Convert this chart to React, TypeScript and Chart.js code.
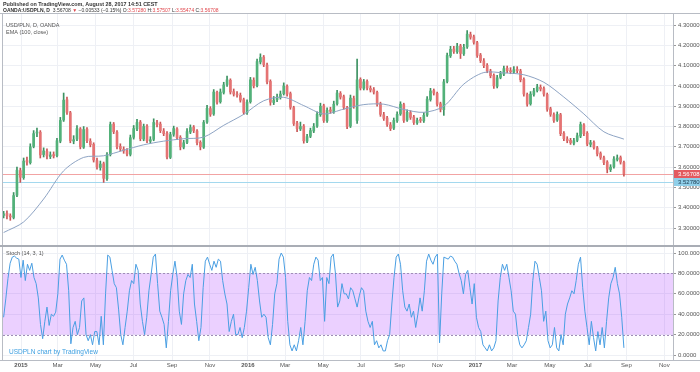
import React, { useEffect, useRef } from 'react';
import { Chart, registerables } from 'chart.js';

Chart.register(...registerables);

// ---- time frame (candles are evenly spread between these dates) ----
const START_DATE = '2014-12-04';
const END_DATE = '2017-08-28';
const X_MIN_DATE = '2014-12-03';
const X_MAX_DATE = '2017-11-15';

// ---- USD/PLN candles ----
const OPEN = [
  3.362, 3.372, 3.358, 3.352, 3.462, 3.583, 3.548, 3.632, 3.622, 3.702,
  3.768, 3.772, 3.662, 3.678, 3.652, 3.662, 3.657, 3.728, 3.832, 3.932,
  3.868, 3.728, 3.738, 3.788, 3.698, 3.787, 3.728, 3.712, 3.632, 3.598,
  3.617, 3.543, 3.662, 3.812, 3.772, 3.702, 3.688, 3.682, 3.663, 3.747,
  3.788, 3.822, 3.738, 3.802, 3.728, 3.737, 3.818, 3.812, 3.778, 3.767,
  3.648, 3.762, 3.788, 3.747, 3.698, 3.722, 3.773, 3.797, 3.778, 3.722,
  3.698, 3.822, 3.888, 3.862, 3.968, 3.922, 3.968, 4.007, 4.028, 3.972,
  3.958, 3.953, 3.932, 3.868, 3.922, 4.028, 4.002, 4.118, 4.142, 4.103,
  4.022, 3.918, 3.932, 3.943, 3.962, 3.998, 3.962, 3.893, 3.817, 3.788,
  3.802, 3.728, 3.752, 3.778, 3.802, 3.858, 3.902, 3.828, 3.882, 3.873,
  3.912, 3.963, 3.947, 3.893, 3.802, 3.938, 3.830, 4.032, 3.988, 4.022,
  3.988, 3.982, 3.968, 3.912, 3.858, 3.842, 3.808, 3.792, 3.828, 3.862,
  3.908, 3.832, 3.868, 3.847, 3.818, 3.832, 3.828, 3.857, 3.933, 3.977,
  3.963, 3.912, 3.883, 4.022, 4.148, 4.182, 4.168, 4.197, 4.158, 4.192,
  4.253, 4.242, 4.213, 4.152, 4.123, 4.102, 4.073, 4.052, 3.998, 4.042,
  4.058, 4.087, 4.073, 4.068, 4.082, 4.073, 4.032, 3.958, 3.912, 3.958,
  3.977, 3.993, 3.987, 3.958, 3.887, 3.858, 3.832, 3.858, 3.767, 3.738,
  3.732, 3.718, 3.732, 3.753, 3.808, 3.767, 3.712, 3.722, 3.695, 3.667,
  3.646, 3.625, 3.588, 3.602, 3.638, 3.647, 3.623,
];
const HIGH = [
  3.382, 3.385, 3.370, 3.475, 3.600, 3.595, 3.645, 3.650, 3.715, 3.780,
  3.792, 3.780, 3.695, 3.690, 3.675, 3.675, 3.742, 3.845, 3.965, 3.945,
  3.875, 3.755, 3.805, 3.795, 3.800, 3.795, 3.740, 3.720, 3.645, 3.630,
  3.625, 3.672, 3.822, 3.820, 3.780, 3.715, 3.700, 3.692, 3.758, 3.805,
  3.835, 3.830, 3.812, 3.810, 3.750, 3.838, 3.830, 3.822, 3.790, 3.775,
  3.772, 3.802, 3.795, 3.755, 3.732, 3.790, 3.808, 3.805, 3.785, 3.730,
  3.830, 3.905, 3.898, 3.982, 3.975, 3.985, 4.018, 4.048, 4.035, 3.985,
  3.972, 3.965, 3.940, 3.932, 4.042, 4.040, 4.132, 4.158, 4.150, 4.112,
  4.030, 3.948, 3.960, 3.975, 4.015, 4.005, 3.970, 3.900, 3.825, 3.822,
  3.810, 3.762, 3.792, 3.815, 3.872, 3.915, 3.910, 3.892, 3.895, 3.925,
  3.978, 3.972, 3.955, 3.900, 3.955, 3.950, 4.132, 4.040, 4.032, 4.030,
  4.000, 3.992, 3.975, 3.920, 3.870, 3.850, 3.820, 3.842, 3.872, 3.922,
  3.915, 3.882, 3.878, 3.855, 3.842, 3.845, 3.868, 3.948, 3.988, 3.985,
  3.970, 3.920, 4.032, 4.162, 4.195, 4.195, 4.210, 4.205, 4.205, 4.272,
  4.265, 4.250, 4.220, 4.160, 4.135, 4.110, 4.082, 4.060, 4.052, 4.072,
  4.098, 4.098, 4.090, 4.095, 4.095, 4.082, 4.040, 3.965, 3.972, 3.988,
  4.008, 4.005, 3.995, 3.965, 3.895, 3.868, 3.872, 3.865, 3.775, 3.750,
  3.742, 3.742, 3.768, 3.822, 3.815, 3.775, 3.732, 3.730, 3.702, 3.675,
  3.655, 3.632, 3.612, 3.652, 3.660, 3.655, 3.630,
];
const LOW = [
  3.350, 3.345, 3.338, 3.345, 3.455, 3.525, 3.540, 3.610, 3.615, 3.695,
  3.750, 3.645, 3.650, 3.640, 3.642, 3.645, 3.650, 3.720, 3.825, 3.860,
  3.720, 3.715, 3.730, 3.690, 3.692, 3.720, 3.700, 3.625, 3.590, 3.585,
  3.525, 3.535, 3.655, 3.765, 3.690, 3.680, 3.668, 3.655, 3.655, 3.738,
  3.780, 3.730, 3.730, 3.720, 3.718, 3.730, 3.798, 3.770, 3.755, 3.640,
  3.642, 3.752, 3.735, 3.685, 3.690, 3.715, 3.765, 3.770, 3.710, 3.685,
  3.692, 3.815, 3.850, 3.855, 3.910, 3.915, 3.960, 3.998, 3.960, 3.950,
  3.945, 3.920, 3.860, 3.860, 3.915, 3.990, 3.995, 4.108, 4.095, 4.010,
  3.905, 3.908, 3.922, 3.935, 3.955, 3.950, 3.885, 3.805, 3.775, 3.780,
  3.718, 3.720, 3.745, 3.770, 3.795, 3.850, 3.820, 3.820, 3.865, 3.865,
  3.905, 3.935, 3.885, 3.790, 3.795, 3.890, 3.815, 3.980, 3.980, 3.980,
  3.970, 3.960, 3.900, 3.850, 3.830, 3.800, 3.780, 3.785, 3.820, 3.855,
  3.820, 3.825, 3.835, 3.810, 3.810, 3.820, 3.820, 3.850, 3.925, 3.955,
  3.900, 3.872, 3.855, 4.015, 4.140, 4.160, 4.160, 4.135, 4.150, 4.185,
  4.230, 4.205, 4.140, 4.115, 4.090, 4.065, 4.040, 3.988, 3.990, 4.035,
  4.050, 4.065, 4.060, 4.060, 4.065, 4.020, 3.950, 3.900, 3.905, 3.950,
  3.970, 3.975, 3.950, 3.875, 3.850, 3.820, 3.825, 3.755, 3.730, 3.720,
  3.712, 3.710, 3.725, 3.745, 3.755, 3.705, 3.700, 3.688, 3.655, 3.638,
  3.612, 3.572, 3.578, 3.595, 3.630, 3.615, 3.555,
];
const CLOSE = [
  3.370, 3.360, 3.355, 3.460, 3.585, 3.550, 3.630, 3.625, 3.700, 3.765,
  3.770, 3.660, 3.680, 3.655, 3.660, 3.655, 3.730, 3.830, 3.930, 3.870,
  3.730, 3.735, 3.790, 3.700, 3.785, 3.730, 3.710, 3.635, 3.600, 3.615,
  3.545, 3.660, 3.810, 3.775, 3.700, 3.690, 3.680, 3.665, 3.745, 3.790,
  3.820, 3.740, 3.800, 3.730, 3.735, 3.820, 3.810, 3.780, 3.765, 3.650,
  3.760, 3.790, 3.745, 3.700, 3.720, 3.775, 3.795, 3.780, 3.720, 3.700,
  3.820, 3.890, 3.860, 3.970, 3.920, 3.970, 4.005, 4.030, 3.970, 3.960,
  3.955, 3.930, 3.870, 3.920, 4.030, 4.000, 4.120, 4.140, 4.105, 4.020,
  3.920, 3.930, 3.945, 3.960, 4.000, 3.960, 3.895, 3.815, 3.790, 3.800,
  3.730, 3.750, 3.780, 3.800, 3.860, 3.900, 3.830, 3.880, 3.875, 3.910,
  3.965, 3.945, 3.895, 3.800, 3.940, 3.900, 4.030, 3.990, 4.020, 3.990,
  3.980, 3.970, 3.910, 3.860, 3.840, 3.810, 3.790, 3.830, 3.860, 3.910,
  3.830, 3.870, 3.845, 3.820, 3.830, 3.830, 3.855, 3.935, 3.975, 3.965,
  3.910, 3.885, 4.020, 4.150, 4.180, 4.170, 4.195, 4.160, 4.190, 4.255,
  4.240, 4.215, 4.150, 4.125, 4.100, 4.075, 4.050, 4.000, 4.040, 4.060,
  4.085, 4.075, 4.070, 4.080, 4.075, 4.030, 3.960, 3.910, 3.960, 3.975,
  3.995, 3.985, 3.960, 3.885, 3.860, 3.830, 3.860, 3.765, 3.740, 3.730,
  3.720, 3.730, 3.755, 3.810, 3.765, 3.714, 3.720, 3.697, 3.665, 3.648,
  3.623, 3.590, 3.600, 3.640, 3.645, 3.625, 3.567,
];

// EMA(100, close), read at every 6th candle
const EMA_EVERY = 6;
const EMA100 = [
  3.278, 3.330, 3.443, 3.582, 3.648, 3.656, 3.683, 3.710, 3.728, 3.740,
  3.748, 3.806, 3.860, 3.927, 3.944, 3.903, 3.862, 3.886, 3.908, 3.910,
  3.884, 3.870, 3.900, 4.009, 4.066, 4.064, 4.055, 4.018, 3.945, 3.862,
  3.774, 3.738,
];

// Stoch(14,3,1) %K, evenly spread between START_DATE and END_DATE
const STOCH_K = [
  37, 55, 75, 90, 96, 97, 95, 94, 76, 93, 73, 89, 83, 90, 76, 70, 56, 30, 16, 33,
  47, 29, 40, 38, 42, 60, 94, 98, 93, 89, 63, 11, 27, 33, 20, 27, 53, 56, 20, 14,
  20, 10, 23, 23, 10, 38, 10, 60, 98, 96, 83, 70, 66, 45, 20, 10, 27, 43, 63, 73,
  70, 89, 83, 50, 33, 20, 37, 63, 79, 96, 99, 70, 43, 37, 30, 7, 33, 63, 79, 92,
  76, 43, 30, 60, 73, 79, 76, 89, 50, 33, 14, 27, 66, 92, 96, 89, 83, 92, 86, 94,
  92, 73, 60, 50, 23, 33, 40, 20, 20, 27, 17, 27, 43, 66, 89, 79, 86, 73, 53, 37,
  40, 37, 17, 10, 30, 60, 70, 94, 100, 96, 76, 33, 10, 4, 10, 4, 14, 27, 10, 33,
  63, 76, 73, 89, 96, 93, 73, 76, 33, 76, 70, 96, 99, 80, 47, 53, 70, 60, 60, 55,
  66, 63, 55, 47, 58, 66, 63, 43, 33, 27, 33, 10, 14, 7, 10, 4, 4, 14, 20, 50,
  76, 96, 99, 89, 63, 47, 43, 50, 37, 43, 27, 40, 56, 43, 63, 92, 99, 93, 89, 96,
  99, 12, 60, 96, 95, 94, 97, 96, 92, 89, 80, 73, 60, 79, 83, 66, 50, 70, 37, 27,
  23, 10, 7, 4, 10, 4, 7, 14, 53, 76, 89, 83, 89, 76, 63, 43, 40, 20, 10, 7,
  10, 14, 27, 40, 73, 92, 89, 76, 63, 33, 43, 14, 7, 10, 27, 7, 4, 20, 10, 40,
  50, 56, 63, 60, 73, 89, 96, 66, 43, 27, 10, 33, 17, 4, 23, 10, 27, 7, 33, 56,
  70, 76, 86, 70, 60, 37, 7,
];

// ---- axes ----
const PRICE_MIN = 3.2116;
const PRICE_MAX = 4.3542;
const PRICE_TICKS = [3.3, 3.4, 3.5, 3.6, 3.7, 3.8, 3.9, 4.0, 4.1, 4.2, 4.3];
const STOCH_MIN = -4.9;
const STOCH_MAX = 106.9;
const STOCH_TICKS = [0, 20, 40, 60, 80, 100];
const STOCH_BAND = [20, 80];
const TIME_TICK_DATES = [
  '2015-01-01', '2015-03-01', '2015-05-01', '2015-07-01', '2015-09-01', '2015-11-01',
  '2016-01-01', '2016-03-01', '2016-05-01', '2016-07-01', '2016-09-01', '2016-11-01',
  '2017-01-01', '2017-03-01', '2017-05-01', '2017-07-01', '2017-09-01', '2017-11-01',
];
const TIME_TICK_LABELS = [
  '2015', 'Mar', 'May', 'Jul', 'Sep', 'Nov',
  '2016', 'Mar', 'May', 'Jul', 'Sep', 'Nov',
  '2017', 'Mar', 'May', 'Jul', 'Sep', 'Nov',
];

const LAST_PRICE = 3.56708;
const LEVEL_PRICE = 3.5278;

const HEADER_1 = 'Published on TradingView.com, August 28, 2017 14:51 CEST';
const SYMBOL_LINE = 'OANDA:USDPLN, D';
const QUOTE_PARTS = [
  ['3.56708 ', 'dark'], ['\u25BC ', 'red'], ['\u22120.00533 (\u22120.15%) ', 'dark'],
  ['O:', 'dark'], ['3.57280 ', 'red'], ['H:', 'dark'], ['3.57507 ', 'red'],
  ['L:', 'dark'], ['3.55474 ', 'red'], ['C:', 'dark'], ['3.56708', 'red'],
];
const PANE_TITLES = ['USD/PLN, D, OANDA', 'EMA (100, close)'];
const STOCH_TITLE = 'Stoch (14, 3, 1)';
const WATERMARK = 'USDPLN chart by TradingView';

const FONT = '"Liberation Sans", Arial, sans-serif';
const UP_BODY = '#52b179';
const UP_WICK = '#3d9262';
const DOWN_BODY = '#e57373';
const DOWN_WICK = '#c95555';

const DAY_MS = 86400000;
const BASE = Date.parse('2015-01-01T00:00:00Z');
const dayNum = (s: string) => (Date.parse(s + 'T00:00:00Z') - BASE) / DAY_MS;

export default function App() {
  const ref = useRef<HTMLCanvasElement | null>(null);

  useEffect(() => {
    const canvas = ref.current;
    if (!canvas) return;

    const d0 = dayNum(START_DATE);
    const d1 = dayNum(END_DATE);
    const n = CLOSE.length;
    const candleDay = (i: number) => d0 + (i * (d1 - d0)) / (n - 1);

    const wicks = CLOSE.map((c, i) => ({ x: candleDay(i), y: [LOW[i], HIGH[i]] }));
    const bodies = CLOSE.map((c, i) => ({ x: candleDay(i), y: [OPEN[i], c] }));
    const up = CLOSE.map((c, i) => c >= OPEN[i]);
    const ema = EMA100.map((v, j) => ({ x: candleDay(Math.min(j * EMA_EVERY, n - 1)), y: v }));
    const ns = STOCH_K.length;
    const stoch = STOCH_K.map((v, i) => ({ x: d0 + (i * (d1 - d0)) / (ns - 1), y: v }));
    const tickDays = TIME_TICK_DATES.map(dayNum);

    const overlay = {
      id: 'tvOverlay',
      beforeDraw(chart: any) {
        const ctx = chart.ctx;
        ctx.save();
        ctx.fillStyle = '#ffffff';
        ctx.fillRect(0, 0, chart.width, chart.height);
        ctx.restore();
      },
      beforeDatasetsDraw(chart: any) {
        const ctx = chart.ctx;
        const a = chart.chartArea;
        const s2 = chart.scales.y2;
        const yTop = s2.getPixelForValue(STOCH_BAND[1]);
        const yBot = s2.getPixelForValue(STOCH_BAND[0]);
        ctx.save();
        ctx.fillStyle = 'rgba(153, 21, 255, 0.2)';
        ctx.fillRect(a.left, yTop, a.right - a.left, yBot - yTop);
        ctx.strokeStyle = '#a08cb8';
        ctx.lineWidth = 1;
        ctx.setLineDash([2, 2]);
        [yTop, yBot].forEach((y) => {
          ctx.beginPath();
          ctx.moveTo(a.left, Math.round(y) + 0.5);
          ctx.lineTo(a.right, Math.round(y) + 0.5);
          ctx.stroke();
        });
        ctx.setLineDash([]);
        // price lines
        const sy = chart.scales.y;
        const lines = [
          [LAST_PRICE, '#f2a3a3'],
          [LEVEL_PRICE, '#a3d8ee'],
        ];
        lines.forEach(([p, col]: any) => {
          const y = Math.round(sy.getPixelForValue(p)) + 0.5;
          ctx.strokeStyle = col;
          ctx.beginPath();
          ctx.moveTo(a.left, y);
          ctx.lineTo(a.right, y);
          ctx.stroke();
        });
        ctx.restore();
      },
      afterDraw(chart: any) {
        const ctx = chart.ctx;
        const a = chart.chartArea;
        const sy = chart.scales.y;
        const s2 = chart.scales.y2;
        ctx.save();
        // frame
        ctx.strokeStyle = '#b8bcc4';
        ctx.lineWidth = 1;
        ctx.beginPath();
        ctx.moveTo(0, Math.round(a.top) - 0.5);
        ctx.lineTo(chart.width, Math.round(a.top) - 0.5);
        ctx.moveTo(Math.round(a.left) - 0.5, a.top);
        ctx.lineTo(Math.round(a.left) - 0.5, a.bottom);
        ctx.moveTo(Math.round(a.right) + 0.5, a.top);
        ctx.lineTo(Math.round(a.right) + 0.5, a.bottom);
        ctx.moveTo(0, Math.round(a.bottom) + 0.5);
        ctx.lineTo(chart.width, Math.round(a.bottom) + 0.5);
        ctx.stroke();
        ctx.strokeStyle = '#a9adb5';
        ctx.lineWidth = 2;
        ctx.beginPath();
        ctx.moveTo(0, Math.round(s2.top));
        ctx.lineTo(chart.width, Math.round(s2.top));
        ctx.stroke();

        // header
        ctx.textBaseline = 'middle';
        ctx.textAlign = 'left';
        ctx.fillStyle = '#333333';
        ctx.font = `bold 5.4px ${FONT}`;
        ctx.fillText(HEADER_1, 3, 5);
        ctx.font = `bold 5px ${FONT}`;
        ctx.fillText(SYMBOL_LINE, 3, 11);
        let x = 3 + ctx.measureText(SYMBOL_LINE + '  ').width;
        ctx.font = `5px ${FONT}`;
        QUOTE_PARTS.forEach(([t, c]) => {
          ctx.fillStyle = c === 'red' ? '#e0484e' : '#333333';
          ctx.fillText(t, x, 11);
          x += ctx.measureText(t).width;
        });

        // pane titles
        ctx.font = `5.5px ${FONT}`;
        ctx.fillStyle = '#555555';
        ctx.fillText(PANE_TITLES[0], 6, a.top + 11);
        ctx.fillText(PANE_TITLES[1], 6, a.top + 18);
        ctx.fillText(STOCH_TITLE, 6, s2.top + 7);
        ctx.fillStyle = '#3d9fe0';
        ctx.font = `6.5px ${FONT}`;
        ctx.fillText(WATERMARK, 9, a.bottom - 8);

        // right-side price labels
        ctx.font = `6px ${FONT}`;
        const tags = [
          [LAST_PRICE, '#e35a5f', '#ffffff'],
          [LEVEL_PRICE, '#8fcfe9', '#1e3a4f'],
        ];
        tags.forEach(([p, bg, fg]: any) => {
          const y = Math.round(sy.getPixelForValue(p));
          ctx.fillStyle = bg;
          ctx.fillRect(a.right + 1, y - 4, chart.width - a.right - 1, 8);
          ctx.fillStyle = fg;
          ctx.fillText(Number(p).toFixed(5), a.right + 5, y + 0.5);
        });
        ctx.restore();
      },
    };

    const tickFont = { family: FONT, size: 6 };

    const chart = new Chart(canvas, {
      type: 'bar',
      data: {
        datasets: [
          {
            type: 'bar',
            data: wicks as any,
            yAxisID: 'y',
            grouped: false,
            barThickness: 1,
            backgroundColor: up.map((u) => (u ? UP_WICK : DOWN_WICK)),
            borderWidth: 0,
            order: 3,
          } as any,
          {
            type: 'bar',
            data: bodies as any,
            yAxisID: 'y',
            grouped: false,
            barThickness: 2,
            minBarLength: 1,
            backgroundColor: up.map((u) => (u ? UP_BODY : DOWN_BODY)),
            borderWidth: 0,
            order: 2,
          } as any,
          {
            type: 'line',
            data: ema as any,
            yAxisID: 'y',
            borderColor: '#8ea4c4',
            borderWidth: 1,
            pointRadius: 0,
            tension: 0.3,
            order: 1,
          } as any,
          {
            type: 'line',
            data: stoch as any,
            yAxisID: 'y2',
            borderColor: '#4a9fe3',
            borderWidth: 1,
            pointRadius: 0,
            order: 0,
          } as any,
        ],
      },
      options: {
        animation: false,
        responsive: false,
        events: [],
        layout: { padding: { top: 14, left: 3, right: 0, bottom: 0 } },
        plugins: { legend: { display: false }, tooltip: { enabled: false } },
        scales: {
          x: {
            type: 'linear',
            position: 'bottom',
            offset: false,
            min: dayNum(X_MIN_DATE),
            max: dayNum(X_MAX_DATE),
            afterBuildTicks: (s: any) => {
              s.ticks = tickDays.map((v) => ({ value: v }));
            },
            afterFit: (s: any) => {
              s.height = 12;
            },
            ticks: {
              autoSkip: false,
              maxRotation: 0,
              padding: 2,
              color: '#555555',
              font: (c: any) => ({ ...tickFont, weight: /^\d{4}$/.test(TIME_TICK_LABELS[c.index] || '') ? 'bold' : 'normal' }),
              callback: (_v: any, i: number) => TIME_TICK_LABELS[i],
            },
            grid: { color: '#eef0f5', drawTicks: false, offset: false },
            border: { display: false },
          },
          y: {
            type: 'linear',
            position: 'right',
            stack: 'panes',
            stackWeight: 232,
            min: PRICE_MIN,
            max: PRICE_MAX,
            afterBuildTicks: (s: any) => {
              s.ticks = PRICE_TICKS.map((v) => ({ value: v }));
            },
            afterFit: (s: any) => {
              s.width = 27;
            },
            ticks: {
              padding: 2,
              color: '#555555',
              font: tickFont,
              callback: (v: any) => Number(v).toFixed(5),
            },
            grid: { color: '#eef0f5', tickLength: 3, tickColor: '#9a9a9a' },
            border: { display: false },
          },
          y2: {
            type: 'linear',
            position: 'right',
            stack: 'panes',
            stackWeight: 114,
            min: STOCH_MIN,
            max: STOCH_MAX,
            afterBuildTicks: (s: any) => {
              s.ticks = STOCH_TICKS.map((v) => ({ value: v }));
            },
            afterFit: (s: any) => {
              s.width = 27;
            },
            ticks: {
              padding: 2,
              color: '#555555',
              font: tickFont,
              callback: (v: any) => Number(v).toFixed(4),
            },
            grid: { color: '#eef0f5', tickLength: 3, tickColor: '#9a9a9a' },
            border: { display: false },
          },
        },
      } as any,
      plugins: [overlay as any],
    });

    return () => chart.destroy();
  }, []);

  return (
    <div style={{ position: 'absolute', left: 0, top: 0, width: 700, height: 372, background: '#fff' }}>
      <canvas ref={ref} width={700} height={372} style={{ display: 'block', width: 700, height: 372 }} />
    </div>
  );
}
